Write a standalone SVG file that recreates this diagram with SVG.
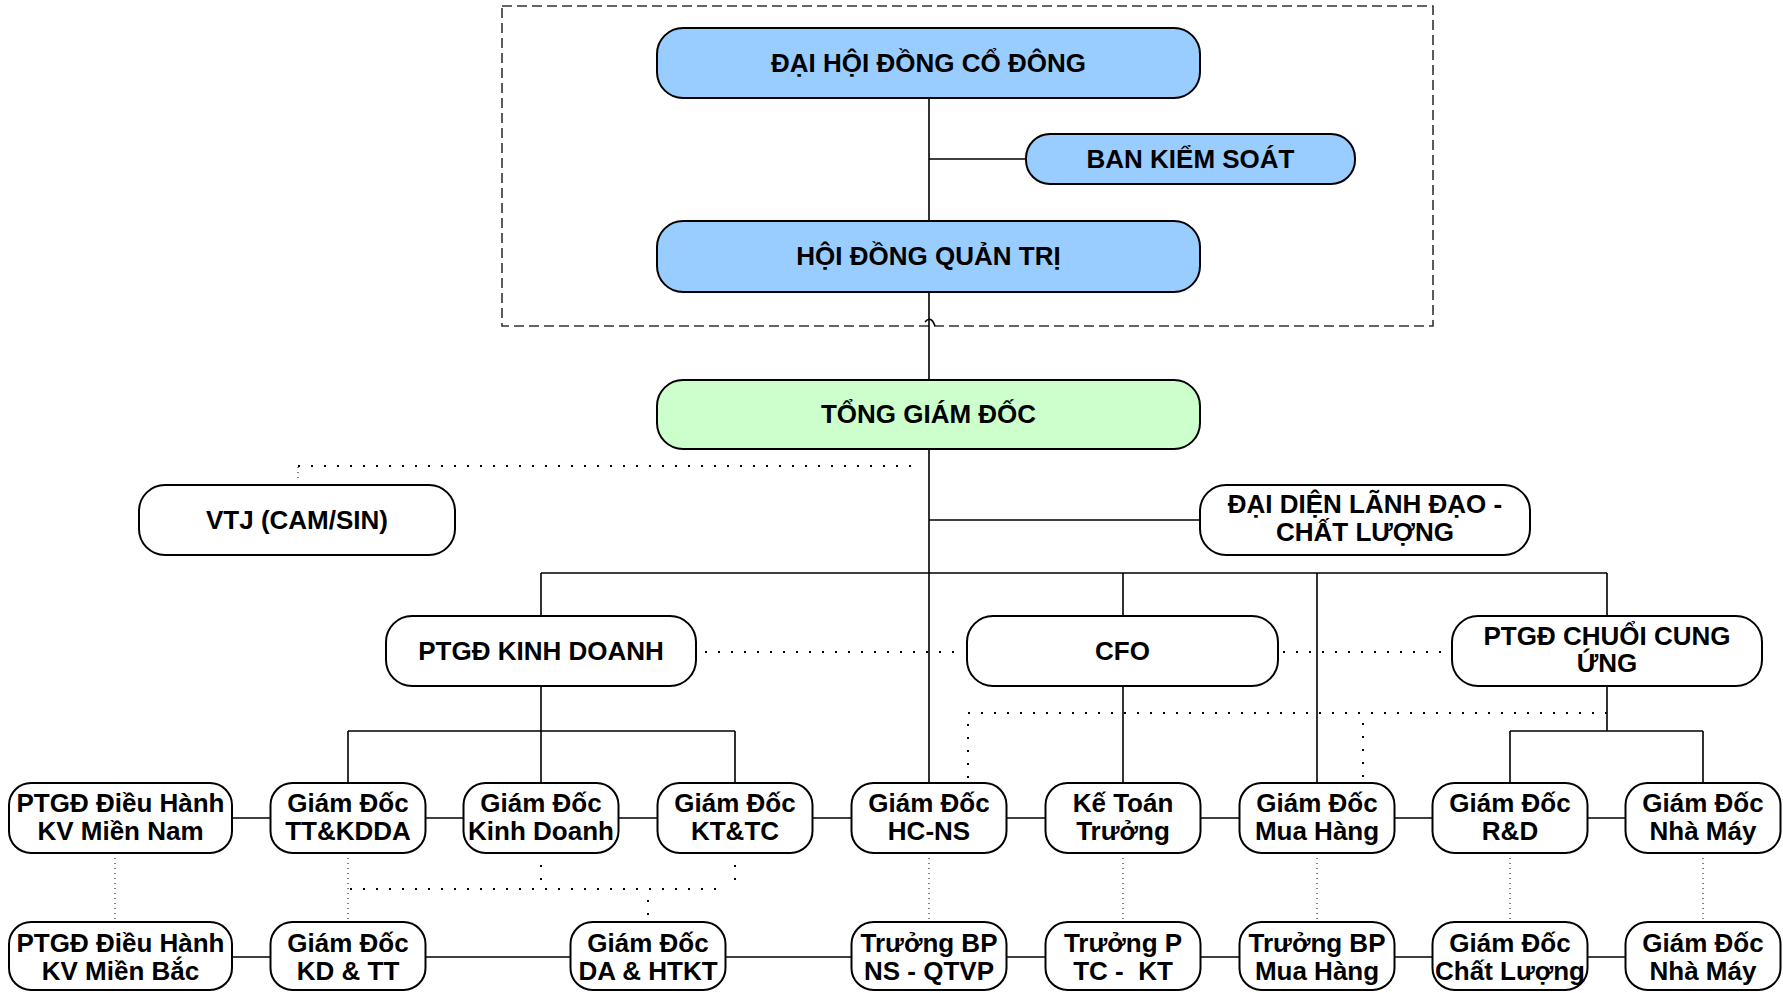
<svg xmlns="http://www.w3.org/2000/svg" width="1783" height="993" viewBox="0 0 1783 993">
  <style>
    .box { fill: #ffffff; stroke: #000000; stroke-width: 2; }
    .blue { fill: #99ccff; }
    .green { fill: #ccffcc; }
    text { font-family: "Liberation Sans", Arial, sans-serif; font-weight: bold; font-size: 26px; text-anchor: middle; fill: #000000; }
    .solid { fill: none; stroke: #000000; stroke-width: 1.6; }
    .dot { fill: none; stroke: #000000; stroke-width: 2; stroke-dasharray: 2 11; }
    .fine { fill: none; stroke: #000000; stroke-width: 1; stroke-dasharray: 1 4; }
    .frame { fill: none; stroke: #333333; stroke-width: 1.6; stroke-dasharray: 10 5; }
  </style>

  <!-- dashed frame around the governance bodies -->
  <rect class="frame" x="502" y="6" width="931" height="320"/>

  <g id="connectors">
    <!-- main spine -->
    <path class="solid" d="M929,98 V221 M929,292 V380 M929,449 V783"/>
    <path class="solid" d="M925,322 Q931,315 935,326"/>
    <path class="solid" d="M929,159 H1026"/>
    <path class="solid" d="M929,520 H1200"/>
    <!-- bus under the CEO -->
    <path class="solid" d="M541,573 H1607 M541,573 V616 M1123,573 V616 M1317,573 V783 M1607,573 V616"/>
    <!-- sales branch -->
    <path class="solid" d="M541,686 V783 M348,731 H735 M348,731 V783 M735,731 V783"/>
    <!-- finance branch -->
    <path class="solid" d="M1123,686 V783"/>
    <!-- supply chain branch -->
    <path class="solid" d="M1607,686 V731 M1510,731 H1703 M1510,731 V783 M1703,731 V783"/>
    <!-- row links -->
    <path class="solid" d="M120,818 H1703"/>
    <path class="solid" d="M120,957 H1703"/>

    <!-- coordination (dotted) links -->
    <path class="dot" d="M298,466 H919"/>
    <path class="fine" d="M298,467 V479"/>
    <path class="dot" d="M705,652 H963"/>
    <path class="dot" d="M1283,652 H1449"/>
    <path class="dot" d="M1607,713 H968 V783"/>
    <path class="dot" d="M1363,723 V780"/>
    <path class="dot" d="M541,865 V889 M735,865 V889 M350,889 H722 M648,900 V922"/>

    <!-- fine dotted links between the two rows -->
    <path class="fine" d="M115,853 V922 M348,853 V922 M929,853 V922 M1123,853 V922 M1317,853 V922 M1510,853 V922 M1703,853 V922"/>
  </g>

  <g id="dai-hoi-dong-co-dong">
    <rect class="box blue" x="657" y="28" width="543" height="70" rx="26"/>
    <text x="928.5" y="72">ĐẠI HỘI ĐỒNG CỔ ĐÔNG</text>
  </g>
  <g id="ban-kiem-soat">
    <rect class="box blue" x="1026" y="134" width="329" height="50" rx="24"/>
    <text x="1190.5" y="168">BAN KIỂM SOÁT</text>
  </g>
  <g id="hoi-dong-quan-tri">
    <rect class="box blue" x="657" y="221" width="543" height="71" rx="26"/>
    <text x="928.5" y="265">HỘI ĐỒNG QUẢN TRỊ</text>
  </g>
  <g id="tong-giam-doc">
    <rect class="box green" x="657" y="380" width="543" height="69" rx="26"/>
    <text x="928.5" y="423">TỔNG GIÁM ĐỐC</text>
  </g>
  <g id="vtj">
    <rect class="box" x="139" y="485" width="316" height="70" rx="26"/>
    <text x="297" y="529">VTJ (CAM/SIN)</text>
  </g>
  <g id="dai-dien-lanh-dao">
    <rect class="box" x="1200" y="485" width="330" height="70" rx="26"/>
    <text x="1365" y="513">ĐẠI DIỆN LÃNH ĐẠO -</text>
    <text x="1365" y="541">CHẤT LƯỢNG</text>
  </g>
  <g id="ptgd-kinh-doanh">
    <rect class="box" x="386" y="616" width="310" height="70" rx="26"/>
    <text x="541" y="660">PTGĐ KINH DOANH</text>
  </g>
  <g id="cfo">
    <rect class="box" x="967" y="616" width="311" height="70" rx="26"/>
    <text x="1122.5" y="660">CFO</text>
  </g>
  <g id="ptgd-chuoi-cung-ung">
    <rect class="box" x="1452" y="616" width="310" height="70" rx="26"/>
    <text x="1607" y="645">PTGĐ CHUỔI CUNG</text>
    <text x="1607" y="672">ỨNG</text>
  </g>

  <!-- first row of directors -->
  <g id="ptgd-mien-nam">
    <rect class="box" x="9" y="783" width="223" height="70" rx="22"/>
    <text x="120.5" y="812">PTGĐ Điều Hành</text>
    <text x="120.5" y="840">KV Miền Nam</text>
  </g>
  <g id="gd-tt-kdda">
    <rect class="box" x="270.5" y="783" width="155" height="70" rx="22"/>
    <text x="348" y="812">Giám Đốc</text>
    <text x="348" y="840">TT&amp;KDDA</text>
  </g>
  <g id="gd-kinh-doanh">
    <rect class="box" x="463.5" y="783" width="155" height="70" rx="22"/>
    <text x="541" y="812">Giám Đốc</text>
    <text x="541" y="840">Kinh Doanh</text>
  </g>
  <g id="gd-kt-tc">
    <rect class="box" x="657.5" y="783" width="155" height="70" rx="22"/>
    <text x="735" y="812">Giám Đốc</text>
    <text x="735" y="840">KT&amp;TC</text>
  </g>
  <g id="gd-hc-ns">
    <rect class="box" x="851.5" y="783" width="155" height="70" rx="22"/>
    <text x="929" y="812">Giám Đốc</text>
    <text x="929" y="840">HC-NS</text>
  </g>
  <g id="ke-toan-truong">
    <rect class="box" x="1045.5" y="783" width="155" height="70" rx="22"/>
    <text x="1123" y="812">Kế Toán</text>
    <text x="1123" y="840">Trưởng</text>
  </g>
  <g id="gd-mua-hang">
    <rect class="box" x="1239.5" y="783" width="155" height="70" rx="22"/>
    <text x="1317" y="812">Giám Đốc</text>
    <text x="1317" y="840">Mua Hàng</text>
  </g>
  <g id="gd-rd">
    <rect class="box" x="1432.5" y="783" width="155" height="70" rx="22"/>
    <text x="1510" y="812">Giám Đốc</text>
    <text x="1510" y="840">R&amp;D</text>
  </g>
  <g id="gd-nha-may">
    <rect class="box" x="1625.5" y="783" width="155" height="70" rx="22"/>
    <text x="1703" y="812">Giám Đốc</text>
    <text x="1703" y="840">Nhà Máy</text>
  </g>

  <!-- second row -->
  <g id="ptgd-mien-bac">
    <rect class="box" x="9" y="922" width="223" height="68" rx="22"/>
    <text x="120.5" y="952">PTGĐ Điều Hành</text>
    <text x="120.5" y="980">KV Miền Bắc</text>
  </g>
  <g id="gd-kd-tt">
    <rect class="box" x="270.5" y="922" width="155" height="68" rx="22"/>
    <text x="348" y="952">Giám Đốc</text>
    <text x="348" y="980">KD &amp; TT</text>
  </g>
  <g id="gd-da-htkt">
    <rect class="box" x="570.5" y="922" width="155" height="68" rx="22"/>
    <text x="648" y="952">Giám Đốc</text>
    <text x="648" y="980">DA &amp; HTKT</text>
  </g>
  <g id="truong-bp-ns-qtvp">
    <rect class="box" x="851.5" y="922" width="155" height="68" rx="22"/>
    <text x="929" y="952">Trưởng BP</text>
    <text x="929" y="980">NS - QTVP</text>
  </g>
  <g id="truong-p-tc-kt">
    <rect class="box" x="1045.5" y="922" width="155" height="68" rx="22"/>
    <text x="1123" y="952">Trưởng P</text>
    <text x="1123" y="980" xml:space="preserve">TC -  KT</text>
  </g>
  <g id="truong-bp-mua-hang">
    <rect class="box" x="1239.5" y="922" width="155" height="68" rx="22"/>
    <text x="1317" y="952">Trưởng BP</text>
    <text x="1317" y="980">Mua Hàng</text>
  </g>
  <g id="gd-chat-luong">
    <rect class="box" x="1432.5" y="922" width="155" height="68" rx="22"/>
    <text x="1510" y="952">Giám Đốc</text>
    <text x="1510" y="980">Chất Lượng</text>
  </g>
  <g id="gd-nha-may-2">
    <rect class="box" x="1625.5" y="922" width="155" height="68" rx="22"/>
    <text x="1703" y="952">Giám Đốc</text>
    <text x="1703" y="980">Nhà Máy</text>
  </g>
</svg>
